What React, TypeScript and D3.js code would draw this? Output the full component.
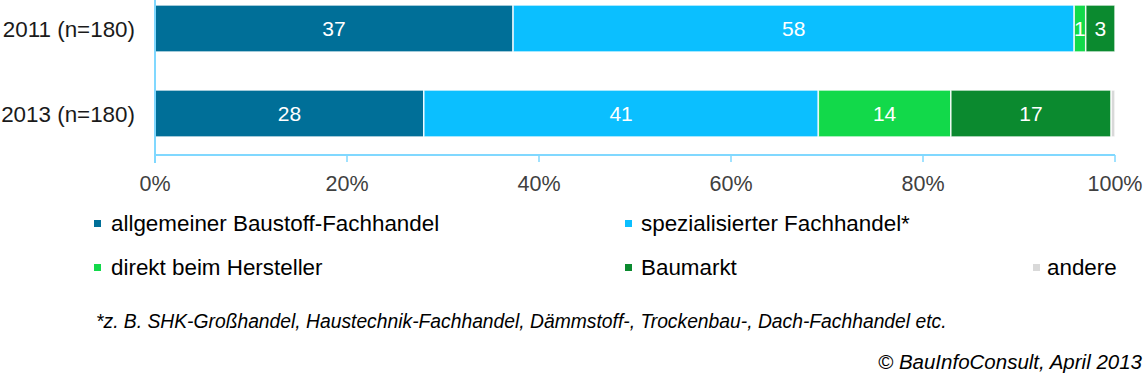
import React from "react";
import * as d3 from "d3";

const categories = ["2011 (n=180)", "2013 (n=180)"];
const seriesNames = [
  "allgemeiner Baustoff-Fachhandel",
  "spezialisierter Fachhandel*",
  "direkt beim Hersteller",
  "Baumarkt",
  "andere",
];
const allgemeiner = [37.3, 28.0];
const spezialisiert = [58.45, 41.1];
const direkt = [1.2, 13.8];
const baumarkt = [3.05, 16.7];
const andere = [0, 0.4];
const xTicks = [0, 20, 40, 60, 80, 100];
const colors = ["#006F98", "#0BBFFF", "#12D94A", "#0B8A2F", "#D9D9D9"];
const footnote =
  "*z. B. SHK-Großhandel, Haustechnik-Fachhandel, Dämmstoff-, Trockenbau-, Dach-Fachhandel etc.";
const copyright = "© BauInfoConsult, April 2013";

const W = 1148;
const H = 376;
const FONT = "'Liberation Sans', Arial, sans-serif";

export default function App() {
  const keys = ["a", "s", "d", "b", "o"];
  const cols = [allgemeiner, spezialisiert, direkt, baumarkt, andere];
  const table = categories.map((c, i) => {
    const row: any = { cat: c };
    keys.forEach((k, j) => (row[k] = cols[j][i]));
    return row;
  });
  const stacked = d3.stack<any>().keys(keys)(table);

  const x = d3.scaleLinear().domain([0, 100]).range([155, 1115]);
  const y = d3
    .scaleBand<string>()
    .domain(categories)
    .range([-14, 156])
    .paddingInner(0.447)
    .paddingOuter(0.2235);
  const fmt = d3.format(".0f");
  const axisColor = "#80D8FF";
  const axisY = 155;

  const legendItems = [
    { i: 0, mx: 94, tx: 111, cy: 223 },
    { i: 1, mx: 625, tx: 641, cy: 223 },
    { i: 2, mx: 94, tx: 111, cy: 267 },
    { i: 3, mx: 625, tx: 641, cy: 267 },
    { i: 4, mx: 1033, tx: 1047, cy: 267 },
  ];

  return (
    <svg
      width={W}
      height={H}
      style={{ position: "absolute", left: 0, top: 0, background: "#fff" }}
      fontFamily={FONT}
    >
      {stacked.map((layer, li) => (
        <g key={layer.key} fill={colors[li]}>
          {layer.map((d, di) => {
            const w = x(d[1]) - x(d[0]);
            if (w <= 0) return null;
            return (
              <rect
                key={di}
                x={x(d[0])}
                y={y(categories[di])!}
                width={w}
                height={y.bandwidth()}
                stroke="#ffffff"
                strokeOpacity={0.85}
                strokeWidth={1.5}
              />
            );
          })}
        </g>
      ))}
      {stacked.map((layer, li) =>
        li === 4
          ? null
          : layer.map((d, di) => (
              <text
                key={layer.key + di}
                x={(x(d[0]) + x(d[1])) / 2}
                y={y(categories[di])! + y.bandwidth() / 2}
                dy="0.36em"
                textAnchor="middle"
                fill="#ffffff"
                fontSize={21}
              >
                {fmt(d[1] - d[0])}
              </text>
            ))
      )}
      {/* axes */}
      <line x1={x(0)} x2={x(0)} y1={0} y2={163} stroke={axisColor} strokeWidth={2} />
      <line x1={x(0)} x2={x(100)} y1={axisY} y2={axisY} stroke={axisColor} strokeWidth={2} />
      {xTicks.map((t) => (
        <g key={t}>
          <line x1={x(t)} x2={x(t)} y1={axisY} y2={axisY + 7} stroke={axisColor} strokeWidth={1.5} />
          <text
            x={x(t)}
            y={183}
            dy="0.36em"
            textAnchor="middle"
            fill="#404040"
            fontSize={21.5}
          >
            {t + "%"}
          </text>
        </g>
      ))}
      {categories.map((c) => (
        <text
          key={c}
          x={135}
          y={y(c)! + y.bandwidth() / 2}
          dy="0.36em"
          textAnchor="end"
          fill="#1a1a1a"
          fontSize={22.4}
        >
          {c}
        </text>
      ))}
      {legendItems.map((l) => (
        <g key={l.i}>
          <rect x={l.mx} y={l.cy - 3} width={7} height={7} fill={colors[l.i]} />
          <text x={l.tx} y={l.cy} dy="0.36em" fill="#000" fontSize={22.4}>
            {seriesNames[l.i]}
          </text>
        </g>
      ))}
      <text x={96} y={321} dy="0.36em" fontStyle="italic" fill="#000" fontSize={19.3}>
        {footnote}
      </text>
      <text
        x={1142}
        y={362}
        dy="0.36em"
        textAnchor="end"
        fontStyle="italic"
        fill="#000"
        fontSize={20.5}
      >
        {copyright}
      </text>
    </svg>
  );
}
